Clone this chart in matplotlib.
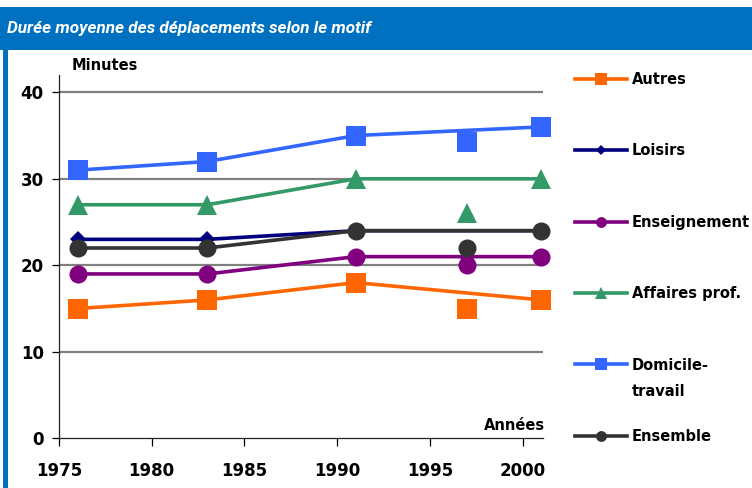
import matplotlib
matplotlib.use("Agg")
import matplotlib.pyplot as plt
from matplotlib.lines import Line2D
from matplotlib.patches import Rectangle

# =========================================================
# DATA
# =========================================================

YEARS = [1976, 1983, 1991, 2001]
EXTRA_YEAR = 1997

SERIES = ["Autres", "Loisirs", "Enseignement", "Affaires prof.", "Domicile-", "Ensemble"]
AUTRES = [15, 16, 18, 16]
LOISIRS = [23, 23, 24, 24]
ENSEIGNEMENT = [19, 19, 21, 21]
AFFAIRES = [27, 27, 30, 30]
DOMICILE = [31, 32, 35, 36]
ENSEMBLE = [22, 22, 24, 24]

# 1997 survey, plotted as isolated markers
EXTRA_1997 = [15, 21, 20, 26, 34.2, 22]

COLORS = ["#ff6600", "#000080", "#800080", "#339966", "#3366ff", "#333333"]
MARKERS = ["s", "D", "o", "^", "s", "o"]
SIZES = [14, 8, 13, 14, 14, 13]

# =========================================================
# PLOT
# =========================================================

fig = plt.figure(figsize=(7.52, 4.88), dpi=100)
W, H = 752, 488

# title bar + left border
fig.patches.append(Rectangle((0, 1 - 50 / H), 1, 43 / H, transform=fig.transFigure,
                             facecolor="#0070c0", edgecolor="none", zorder=0))
fig.patches.append(Rectangle((3 / W, 0), 5 / W, 1 - 50 / H, transform=fig.transFigure,
                             facecolor="#0070c0", edgecolor="none", zorder=0))
fig.text(7 / W, 1 - 28 / H, "Durée moyenne des déplacements selon le motif",
         color="white", fontsize=12.3, fontweight="bold", style="italic",
         fontstretch="condensed", family=["Roboto", "DejaVu Sans"],
         va="center", ha="left")

ax = fig.add_axes([59 / W, 1 - 438.3 / H, (543 - 59) / W, (438.3 - 75) / H])

all_values = [AUTRES, LOISIRS, ENSEIGNEMENT, AFFAIRES, DOMICILE, ENSEMBLE]
handles = []
for vals, extra, col, mk, ms in zip(all_values, EXTRA_1997, COLORS, MARKERS, SIZES):
    ax.plot(YEARS, vals, color=col, lw=2.6, marker=mk, markersize=ms,
            markeredgewidth=0, clip_on=False)
    ax.plot([EXTRA_YEAR], [extra], color=col, lw=0, marker=mk, markersize=ms,
            markeredgewidth=0, clip_on=False)
    handles.append(Line2D([], [], color=col, lw=2.6, marker=mk,
                          markersize=ms * 0.6, markeredgewidth=0))

ax.set_xlim(1975, 2001.1)
ax.set_ylim(0, 42)
ax.set_xticks([1975, 1980, 1985, 1990, 1995, 2000])
ax.set_yticks([0, 10, 20, 30, 40])
for y in [10, 20, 30, 40]:
    ax.axhline(y, color="#808080", lw=1.6, zorder=0)

for s in ["top", "right"]:
    ax.spines[s].set_visible(False)
for s in ["left", "bottom"]:
    ax.spines[s].set_color("#222222")
    ax.spines[s].set_linewidth(0.9)

ax.tick_params(axis="y", direction="out", length=5, width=0.9, pad=6, labelsize=12)
ax.tick_params(axis="x", direction="out", length=6, width=0.9, pad=11, labelsize=12)
for lab in ax.get_xticklabels() + ax.get_yticklabels():
    lab.set_fontweight("bold")

fig.text(72 / W, 1 - 66 / H, "Minutes", fontsize=10.5, fontweight="bold",
         va="center", ha="left")
fig.text(545 / W, 1 - 425 / H, "Années", fontsize=10.5, fontweight="bold",
         va="center", ha="right")

leg = fig.legend(handles, SERIES, loc="upper left", bbox_to_anchor=(569 / W, 1 - 66 / H),
                 frameon=False, fontsize=10.5, handlelength=3.6, handletextpad=0.3,
                 labelspacing=3.87, borderaxespad=0)
for t in leg.get_texts():
    t.set_fontweight("bold")
# second line of the "Domicile-travail" label
fig.text(632 / W, 1 - 392 / H, "travail", fontsize=10.5, fontweight="bold",
         va="center", ha="left")

fig.savefig("out.png", dpi=100)
